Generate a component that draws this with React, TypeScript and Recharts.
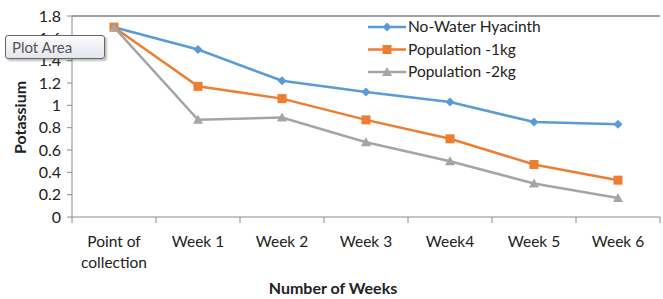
import React from "react";
import { LineChart, Line, XAxis, YAxis, ReferenceLine } from "recharts";

const weeks = ["Point of collection", "Week 1", "Week 2", "Week 3", "Week4", "Week 5", "Week 6"];
const noWaterHyacinth = [1.7, 1.5, 1.22, 1.12, 1.03, 0.85, 0.83];
const population1kg = [1.7, 1.17, 1.06, 0.87, 0.7, 0.47, 0.33];
const population2kg = [1.7, 0.87, 0.89, 0.67, 0.5, 0.3, 0.17];
const yTicks = [0, 0.2, 0.4, 0.6, 0.8, 1, 1.2, 1.4, 1.6, 1.8];

const seriesNames = ["No-Water Hyacinth", "Population -1kg", "Population -2kg"];

const data = weeks.map((w, i) => ({
  name: w,
  a: noWaterHyacinth[i],
  b: population1kg[i],
  c: population2kg[i],
}));

const BLUE = "#5B9BD5";
const ORANGE = "#ED7D31";
const GRAY = "#A5A5A5";
const FONT = "Lato, 'Open Sans', sans-serif";
const HALF_BAND = 42;

const Diamond = (props: any) => {
  const { cx, cy } = props;
  if (cx == null || cy == null) return null;
  return <path d={`M${cx},${cy - 4.5} L${cx + 4.5},${cy} L${cx},${cy + 4.5} L${cx - 4.5},${cy} Z`} fill={BLUE} />;
};

const Square = (props: any) => {
  const { cx, cy } = props;
  if (cx == null || cy == null) return null;
  return <rect x={cx - 4.5} y={cy - 4.5} width={9} height={9} fill={ORANGE} />;
};

const Triangle = (props: any) => {
  const { cx, cy } = props;
  if (cx == null || cy == null) return null;
  return <path d={`M${cx},${cy - 5} L${cx + 5},${cy + 4} L${cx - 5},${cy + 4} Z`} fill={GRAY} />;
};

const XTick = (props: any) => {
  const { x, y, payload, index } = props;
  const words = String(payload.value) === "Point of collection" ? ["Point of", "collection"] : [String(payload.value)];
  return (
    <g>
      <line x1={x - HALF_BAND} x2={x - HALF_BAND} y1={y - 8} y2={y - 2} stroke="#8c8c8c" />
      {index === weeks.length - 1 && (
        <line x1={x + HALF_BAND} x2={x + HALF_BAND} y1={y - 8} y2={y - 2} stroke="#8c8c8c" />
      )}
      <text x={x} y={y + 22} textAnchor="middle" fill="#222" fontSize={15.5} fontFamily={FONT}>
        {words.map((w, i) => (
          <tspan key={i} x={x} dy={i === 0 ? 0 : 21}>
            {w}
          </tspan>
        ))}
      </text>
    </g>
  );
};

const legendItems = [
  { label: seriesNames[0], color: BLUE, Marker: Diamond },
  { label: seriesNames[1], color: ORANGE, Marker: Square },
  { label: seriesNames[2], color: GRAY, Marker: Triangle },
];

export default function App() {
  return (
    <div style={{ position: "relative", width: 663, height: 299, background: "#fff", fontFamily: FONT }}>
      <style>{"body{margin:0}"}</style>
      <LineChart width={663} height={299} data={data} margin={{ top: 16, right: 3, left: 0, bottom: 0 }}>
        <XAxis
          dataKey="name"
          height={82}
          padding={{ left: HALF_BAND, right: HALF_BAND }}
          stroke="#8c8c8c"
          tickLine={false}
          interval={0}
          tick={<XTick />}
          label={{ value: "Number of Weeks", position: "insideBottom", offset: 5, dx: -33, fill: "#222", fontSize: 16, fontWeight: "bold", fontFamily: FONT }}
        />
        <YAxis
          domain={[0, 1.8]}
          ticks={yTicks}
          interval={0}
          width={72}
          stroke="#8c8c8c"
          tickSize={5}
          tickMargin={6}
          tick={{ fill: "#222", fontSize: 16, fontFamily: FONT }}
          label={{ value: "Potassium", angle: -90, position: "insideLeft", offset: 20, dy: 1, fill: "#222", fontSize: 16, fontWeight: "bold", fontFamily: FONT, style: { textAnchor: "middle" } }}
        />
        <ReferenceLine y={1.8} stroke="#444" strokeWidth={1.2} />
        <Line dataKey="a" stroke={BLUE} strokeWidth={2.5} dot={<Diamond />} isAnimationActive={false} />
        <Line dataKey="b" stroke={ORANGE} strokeWidth={2.5} dot={<Square />} isAnimationActive={false} />
        <Line dataKey="c" stroke={GRAY} strokeWidth={2.5} dot={<Triangle />} isAnimationActive={false} />
      </LineChart>
      <div style={{ position: "absolute", left: 366, top: 17 }}>
        <svg width={190} height={66}>
          {legendItems.map((it, i) => {
            const y = 10 + i * 22.5;
            const M = it.Marker;
            return (
              <g key={it.label}>
                <line x1={2} x2={40} y1={y} y2={y} stroke={it.color} strokeWidth={2.5} />
                <M cx={21} cy={y} />
                <text x={42} y={y + 5} fontSize={15.5} fill="#222" fontFamily={FONT}>
                  {it.label}
                </text>
              </g>
            );
          })}
        </svg>
      </div>
      <div
        style={{
          position: "absolute",
          left: 5,
          top: 35,
          width: 100,
          height: 24,
          boxSizing: "border-box",
          border: "1px solid #666",
          borderRadius: 3,
          background: "linear-gradient(#fbfbfd, #e4e6ee)",
          boxShadow: "2px 2px 2px rgba(0,0,0,0.25)",
          color: "#555",
          fontSize: 15,
          lineHeight: "22px",
          paddingLeft: 6,
        }}
      >
        Plot Area
      </div>
    </div>
  );
}
